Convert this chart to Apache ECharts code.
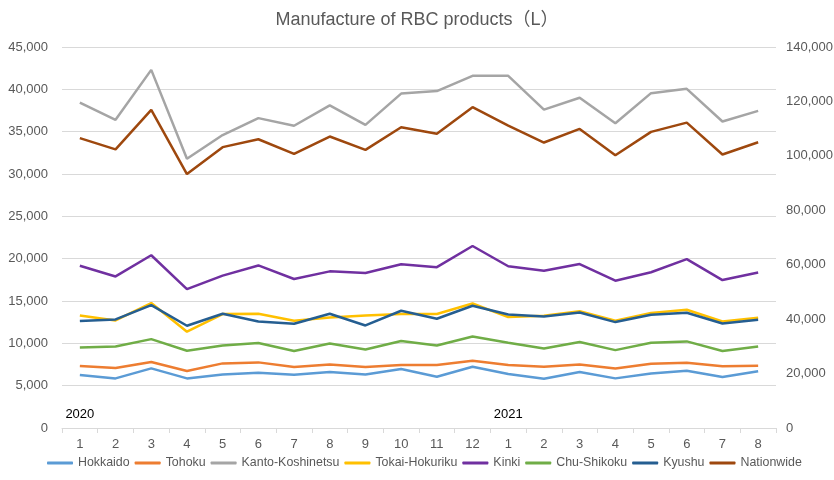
<!DOCTYPE html>
<html>
<head>
<meta charset="utf-8">
<script src="https://cdn.jsdelivr.net/npm/echarts@6/dist/echarts.min.js"></script>
<style>
  html, body { margin: 0; padding: 0; background: #fff; }
  #chart { width: 834px; height: 480px; }
</style>
</head>
<body>
<div id="chart"></div>
<script>
var months = ['1','2','3','4','5','6','7','8','9','10','11','12','1','2','3','4','5','6','7','8'];
var years = [{ name: '2020', index: 0 }, { name: '2021', index: 12 }];

var hokkaido = [6260, 5860, 7040, 5860, 6330, 6530, 6290, 6610, 6330, 6970, 6060, 7240, 6380, 5820, 6610, 5860, 6450, 6770, 6020, 6690];
var tohoku = [7320, 7080, 7790, 6730, 7630, 7750, 7200, 7510, 7200, 7440, 7440, 7950, 7440, 7240, 7510, 7040, 7590, 7710, 7280, 7360];
var kanto = [38440, 36400, 42300, 31800, 34600, 36600, 35700, 38100, 35800, 39500, 39800, 41600, 41600, 37600, 39000, 36000, 39550, 40060, 36200, 37460];
var tokai = [13300, 12700, 14760, 11370, 13460, 13500, 12670, 13060, 13300, 13460, 13460, 14700, 13100, 13260, 13800, 12670, 13580, 13970, 12580, 13020];
var kinki = [19160, 17900, 20400, 16400, 18000, 19200, 17600, 18500, 18300, 19350, 19000, 21500, 19100, 18570, 19360, 17400, 18400, 19950, 17470, 18370];
var chuShikoku = [9520, 9630, 10500, 9130, 9750, 10030, 9090, 9990, 9280, 10270, 9750, 10800, 10070, 9400, 10150, 9200, 10070, 10230, 9090, 9630];
var kyushu = [12630, 12820, 14520, 12080, 13500, 12580, 12310, 13500, 12110, 13850, 12900, 14440, 13410, 13180, 13650, 12510, 13380, 13610, 12350, 12790];
var nationwide = [106500, 102400, 116900, 93300, 103200, 106100, 100700, 107100, 102200, 110500, 108100, 117900, 111100, 104900, 109900, 100200, 108800, 112200, 100500, 105000];

var leftTicks = { min: 0, max: 45000, interval: 5000 };
var rightTicks = { min: 0, max: 140000, interval: 20000 };

var chart = echarts.init(document.getElementById('chart'));

var fmt = function (v) { return v.toLocaleString('en-US'); };

function line(name, data, color, axis) {
    return {
        name: name,
        type: 'line',
        data: data,
        yAxisIndex: axis || 0,
        symbol: 'none',
        lineStyle: { width: 2.5, color: color },
        itemStyle: { color: color }
    };
}

var option = {
    backgroundColor: '#fff',
    textStyle: { fontFamily: 'Liberation Sans, Arial, sans-serif' },
    title: {
        text: 'Manufacture of RBC products（L）',
        left: 'center',
        top: 6,
        textStyle: { fontSize: 18, fontWeight: 'normal', color: '#595959', fontFamily: 'Liberation Sans, Noto Sans CJK JP, sans-serif' }
    },
    grid: { left: 62, right: 58, top: 47, bottom: 52, outerBoundsMode: 'none' },
    legend: {
        bottom: 6,
        left: 42,
        icon: 'roundRect',
        itemWidth: 26,
        itemHeight: 3,
        itemGap: 5,
        textStyle: { color: '#595959', fontSize: 12.4 }
    },
    xAxis: {
        type: 'category',
        data: months,
        boundaryGap: true,
        axisLine: { lineStyle: { color: '#d9d9d9' } },
        axisTick: { show: true, lineStyle: { color: '#d9d9d9' } },
        axisLabel: { color: '#595959', fontSize: 13, margin: 10 }
    },
    yAxis: [{
        type: 'value',
        min: leftTicks.min,
        max: leftTicks.max,
        interval: leftTicks.interval,
        axisLine: { show: false },
        axisTick: { show: false },
        axisLabel: { color: '#595959', fontSize: 13, margin: 14, formatter: fmt },
        splitLine: { lineStyle: { color: '#d9d9d9' } }
    }, {
        type: 'value',
        min: rightTicks.min,
        max: rightTicks.max,
        interval: rightTicks.interval,
        axisLine: { show: false },
        axisTick: { show: false },
        axisLabel: { color: '#595959', fontSize: 13, margin: 10, formatter: fmt },
        splitLine: { show: false }
    }],
    series: [
        line('Hokkaido', hokkaido, '#5B9BD5'),
        line('Tohoku', tohoku, '#ED7D31'),
        line('Kanto-Koshinetsu', kanto, '#A5A5A5'),
        line('Tokai-Hokuriku', tokai, '#FFC000'),
        line('Kinki', kinki, '#7030A0'),
        line('Chu-Shikoku', chuShikoku, '#70AD47'),
        line('Kyushu', kyushu, '#255E91'),
        line('Nationwide', nationwide, '#9E480E', 1)
    ]
};

chart.setOption(option);

// year labels placed over their first month
var yearText = years.map(function (y) {
    var p = chart.convertToPixel({ xAxisIndex: 0, yAxisIndex: 0 }, [y.index, 0]);
    return {
        type: 'text',
        x: p[0],
        y: p[1] - 14,
        style: { text: y.name, fill: '#000', fontSize: 13, align: 'center', verticalAlign: 'middle', fontFamily: 'Liberation Sans, Arial, sans-serif' }
    };
});
chart.setOption({ graphic: yearText });
</script>
</body>
</html>
